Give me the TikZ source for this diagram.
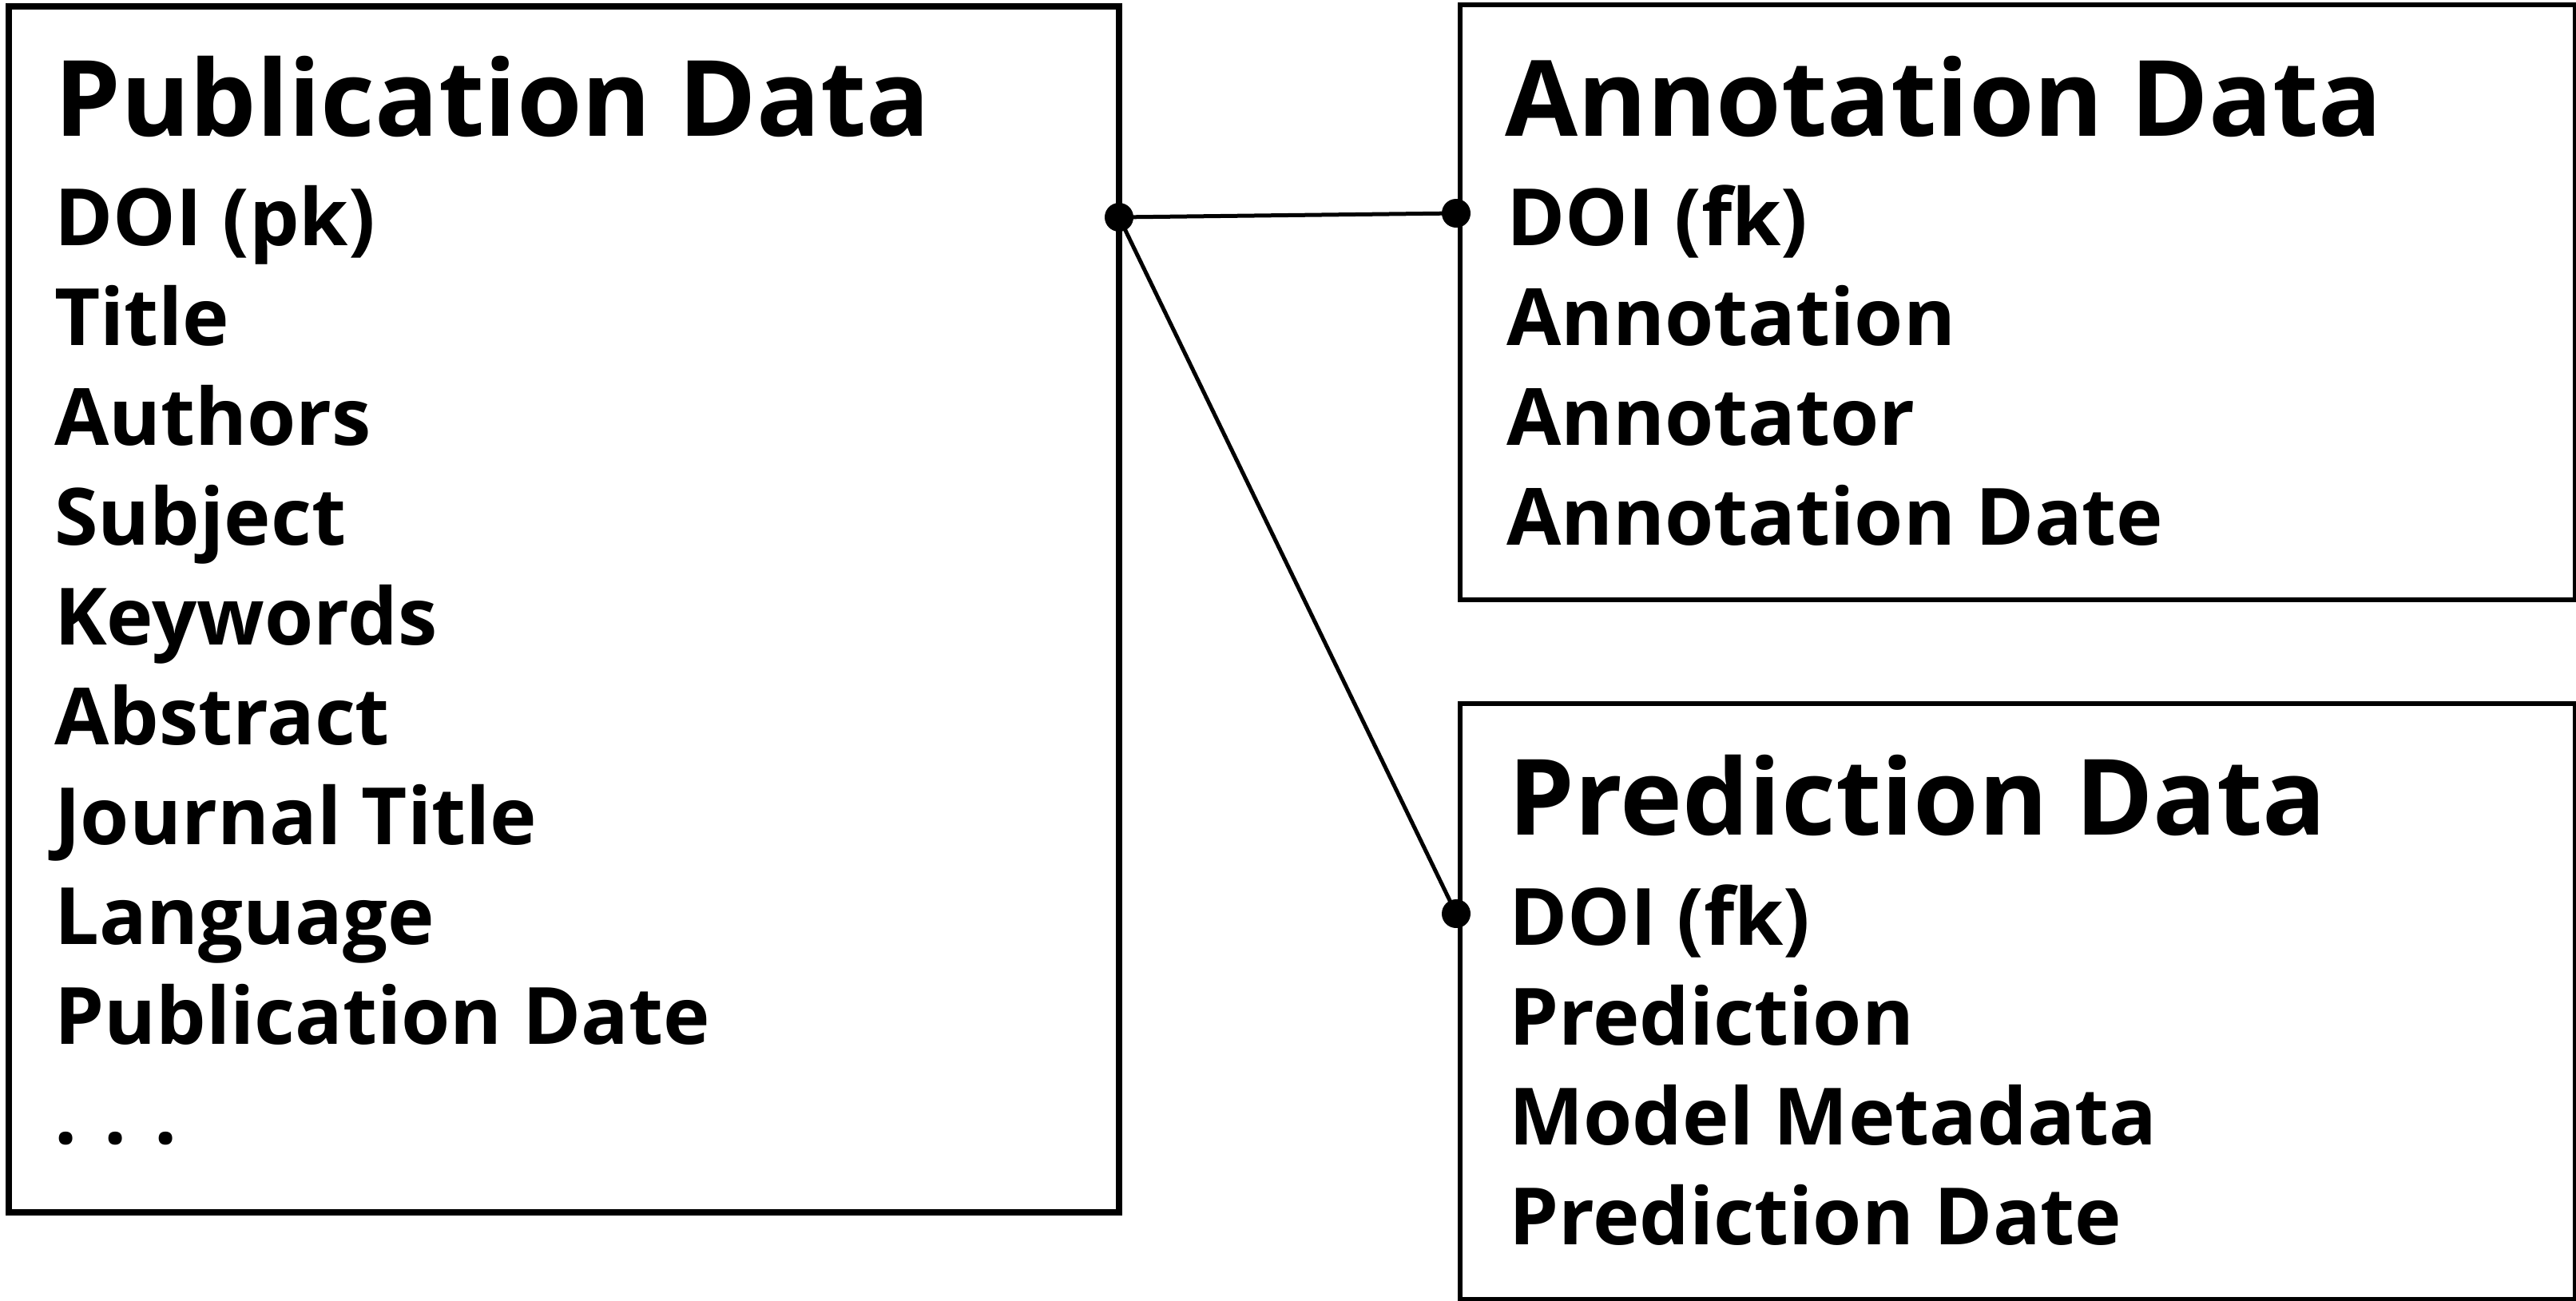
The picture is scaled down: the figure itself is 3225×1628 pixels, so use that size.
\documentclass[tikz,border=0pt]{standalone}
\usepackage{fontspec}
\setmainfont{Open Sans}
\begin{document}
\begin{tikzpicture}[x=1pt,y=-1pt,
  tbl/.style={draw, line width=#1, inner sep=0pt, anchor=north west},
  ttl/.style={anchor=base west, inner sep=0pt, font=\bfseries\fontsize{132}{140}\selectfont},
  fld/.style={anchor=base west, inner sep=0pt, font=\bfseries\fontsize{99}{110}\selectfont},
  joint/.style={circle, fill=black, inner sep=0pt, minimum size=36pt},
  conn/.style={line width=5pt}]
\useasboundingbox (0,0) rectangle (3225,1628);
% tables
\node[tbl=8pt, minimum width=1390pt, minimum height=1510pt] (pub) at (7,4) {};
\node[tbl=6pt, minimum width=1396pt, minimum height=745pt] (ann) at (1825,3) {};
\node[tbl=6pt, minimum width=1396pt, minimum height=746pt] (pred) at (1825,878) {};
% publication
\node[ttl] (pubT) at (68,170) {Publication Data};
\node[fld] (p1) at (68,307) {DOI (pk)};
\node[fld] (p2) at (68,432) {Title};
\node[fld] (p3) at (68,557) {Authors};
\node[fld] (p4) at (68,682) {Subject};
\node[fld] (p5) at (68,807) {Keywords};
\node[fld] (p6) at (68,932) {Abstract};
\node[fld] (p7) at (68,1057) {Journal Title};
\node[fld] (p8) at (68,1182) {Language};
\node[fld] (p9) at (68,1307) {Publication Date};
\node[fld] (p10) at (68,1432) {. . .};
% annotation
\node[ttl] (annT) at (1884,170) {Annotation Data};
\node[fld] (a1) at (1886,307) {DOI (fk)};
\node[fld] (a2) at (1886,432) {Annotation};
\node[fld] (a3) at (1886,557) {Annotator};
\node[fld] (a4) at (1886,682) {Annotation Date};
% prediction
\node[ttl] (predT) at (1888,1045) {Prediction Data};
\node[fld] (r1) at (1889,1183) {DOI (fk)};
\node[fld] (r2) at (1889,1308) {Prediction};
\node[fld] (r3) at (1889,1433) {Model Metadata};
\node[fld] (r4) at (1889,1558) {Prediction Date};
% joints and connectors
\node[joint] (j1) at (1401,272) {};
\node[joint] (j2) at (1823,267) {};
\node[joint] (j3) at (1823,1144) {};
\draw[conn] (j1.center) -- (j2.center);
\draw[conn] (j1.center) -- (j3.center);
\end{tikzpicture}
\end{document}
